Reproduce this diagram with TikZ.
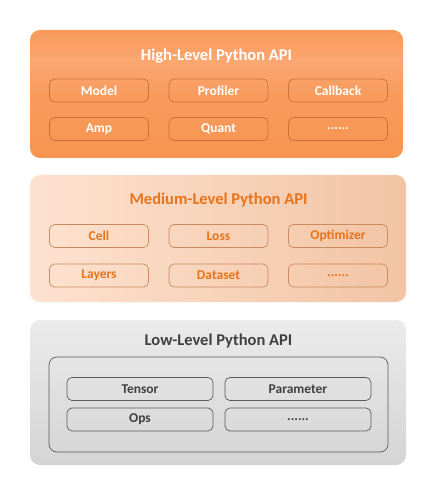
\documentclass[tikz,border=0pt]{standalone}
\usepackage{fontspec}
\setmainfont{Carlito}
\usepackage{tikz}
\usetikzlibrary{positioning}
\definecolor{hiorange}{HTML}{F79450}
\definecolor{hilight}{HTML}{FAA772}
\definecolor{hiedge}{HTML}{C8723A}
\definecolor{medleft}{HTML}{FDE2D0}
\definecolor{medright}{HTML}{F2C4A4}
\definecolor{mededge}{HTML}{C98A60}
\definecolor{medtext}{HTML}{E8731A}
\definecolor{lowtop}{HTML}{EBEBEB}
\definecolor{lowbot}{HTML}{D4D4D4}
\definecolor{lowedge}{HTML}{5A5A5A}
\definecolor{lowtext}{HTML}{404040}
\pgfdeclareverticalshading{hishade}{100bp}{color(0bp)=(hiorange); color(25bp)=(hiorange);
  color(50bp)=(hiorange!60!hilight); color(63bp)=(hilight); color(75bp)=(hiorange!70!hilight);
  color(100bp)=(hiorange)}
\tikzset{
  layer/.style={rounded corners=10pt, draw=none, inner sep=0pt},
  apibox/.style={rounded corners=5pt, line width=0.7pt, minimum width=99pt,
    minimum height=23pt, inner sep=0pt, font=\bfseries\fontsize{13.5}{14}\selectfont},
  hibox/.style={apibox, draw=hiedge, text=white},
  medbox/.style={apibox, draw=mededge, text=medtext},
  lowbox/.style={apibox, draw=lowedge, text=lowtext, minimum width=146pt},
  title/.style={font=\bfseries\fontsize{16.5}{18}\selectfont}
}
\begin{document}
\begin{tikzpicture}[x=1pt,y=-1pt]
\useasboundingbox (0,0) rectangle (436,494);
% high level
\node [layer, minimum width=373pt, minimum height=128pt, shading=hishade] (high) at (216.5,94) {};
\node [title, text=white] (hightitle) at (216.5,56) {High-Level Python API};
\node [hibox] (model) at (99,90.5) {Model};
\node [hibox] (profiler) at (218.5,90.5) {Profiler};
\node [hibox] (callback) at (338,90.5) {Callback};
\node [hibox] (amp) at (99,129) {Amp};
\node [hibox] (quant) at (218.5,129) {Quant};
\node [hibox] (himore) at (338,129) {......};
% medium level
\node [layer, minimum width=376pt, minimum height=127pt,
  left color=medleft, right color=medright] (medium) at (218,238.5) {};
\node [title, text=medtext] (medtitle) at (218.5,200) {Medium-Level Python API};
\node [medbox] (cell) at (99,236) {Cell};
\node [medbox] (loss) at (218.5,236) {Loss};
\node [medbox] (optimizer) at (338,236) {Optimizer};
\node [medbox] (layers) at (99,275.5) {Layers};
\node [medbox] (dataset) at (218.5,275.5) {Dataset};
\node [medbox] (medmore) at (338,275.5) {......};
% low level
\node [layer, minimum width=376pt, minimum height=145pt,
  top color=lowtop, bottom color=lowbot] (low) at (218,392.5) {};
\node [title, text=lowtext] (lowtitle) at (218.5,341) {Low-Level Python API};
\node [rounded corners=8pt, draw=lowedge, line width=0.7pt, minimum width=339pt,
  minimum height=95pt] (lowinner) at (218.5,404.5) {};
\node [lowbox] (tensor) at (140,389) {Tensor};
\node [lowbox] (parameter) at (298,389) {Parameter};
\node [lowbox] (ops) at (140,419.5) {Ops};
\node [lowbox] (lowmore) at (298,419.5) {......};
\end{tikzpicture}
\end{document}
